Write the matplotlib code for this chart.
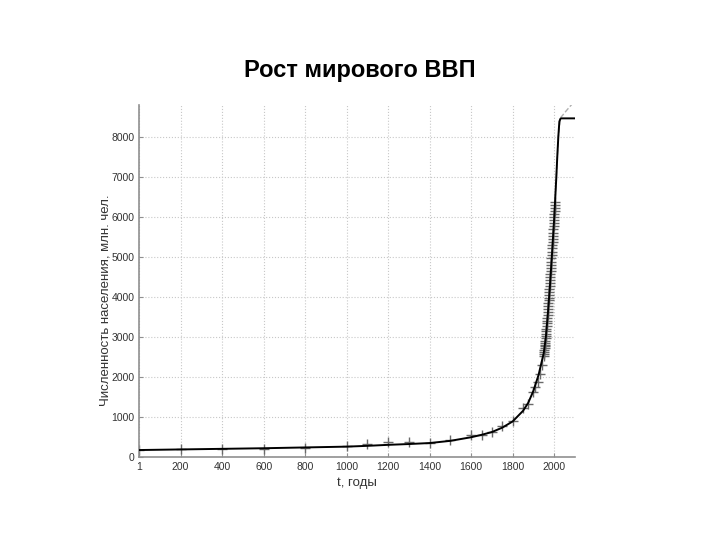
import matplotlib
matplotlib.use('Agg')
import matplotlib.pyplot as plt

plt.rcParams['font.family'] = ['Liberation Sans', 'DejaVu Sans']

# population data, mln
data_years = [1, 200, 400, 600, 800, 1000, 1100, 1200, 1300, 1400, 1500, 1600, 1650,
              1700, 1750, 1800, 1850, 1875, 1900, 1910, 1920, 1930, 1940] + list(range(1950, 2006))
data_pop = [170, 190, 190, 200, 220, 275, 320, 360, 360, 350, 425, 545, 545,
            610, 760, 900, 1210, 1325, 1625, 1750, 1860, 2070, 2300,
            2525, 2572, 2619, 2665, 2712, 2758, 2806, 2855, 2905, 2958,
            3018, 3080, 3135, 3199, 3263, 3333, 3401, 3469, 3539, 3612,
            3686, 3761, 3836, 3909, 3981, 4053, 4124, 4194, 4266, 4340,
            4414, 4490, 4567, 4645, 4724, 4802, 4882, 4964, 5046, 5130,
            5213, 5294, 5373, 5451, 5529, 5606, 5683, 5760, 5836, 5912,
            5987, 6062, 6138, 6213, 6289, 6365]

# model curve (black)
model_years = [1, 200, 400, 600, 800, 1000, 1100, 1200, 1300, 1400, 1500, 1600, 1650,
               1700, 1750, 1800, 1850, 1875, 1900, 1925, 1950, 1960, 1970, 1980, 1990,
               2000, 2005, 2010, 2015, 2020, 2025, 2030, 2035, 2100]
model_pop = [170, 185, 200, 215, 235, 255, 275, 300, 320, 345, 400, 490, 550,
             620, 730, 885, 1150, 1350, 1650, 2050, 2600, 3000, 3600, 4300, 5100,
             5950, 6450, 6950, 7500, 8000, 8380, 8450, 8460, 8460]

# second model (grey dashed)
alt_years = [1950, 1970, 1990, 2000, 2010, 2020, 2030, 2060, 2090, 2100]
alt_pop = [2600, 3600, 5100, 5950, 6950, 8000, 8470, 8660, 8840, 8900]

fig = plt.figure(figsize=(7.2, 5.4), dpi=100)
ax = fig.add_axes([0.1935, 0.154, 0.605, 0.652])

ax.plot(data_years, data_pop, '+', color='#6a6a6a', ms=7, mew=1.0, zorder=2)
ax.plot(alt_years, alt_pop, '--', color='#b0b0b0', lw=1.0, zorder=3)
ax.plot(model_years, model_pop, '-', color='black', lw=1.4, zorder=4)

ax.set_xlim(1, 2100)
ax.set_ylim(0, 8800)
ax.set_xticks([1] + list(range(200, 2001, 200)))
ax.set_xticklabels(['1'] + [str(i) for i in range(200, 2001, 200)])
ax.set_yticks(range(0, 8001, 1000))

ax.grid(True, linestyle=':', color='#c8c8c8', linewidth=0.8)
ax.set_axisbelow(True)
for s in ['top', 'right']:
    ax.spines[s].set_visible(False)
for s in ['left', 'bottom']:
    ax.spines[s].set_color('#909090')
    ax.spines[s].set_linewidth(1.2)
ax.tick_params(direction='in', length=3, colors='#909090', labelcolor='#333333', labelsize=7.5)

ax.set_xlabel('t, годы', fontsize=9.5, color='#333333', labelpad=4)
ax.set_ylabel('Численность населения, млн. чел.', fontsize=9.5, color='#333333')
ax.yaxis.set_label_coords(-0.064, 0.445)

fig.text(0.5, 0.87, 'Рост мирового ВВП', ha='center', va='center', fontsize=17, fontweight='bold')

fig.savefig('out.png', dpi=100, facecolor='white')
